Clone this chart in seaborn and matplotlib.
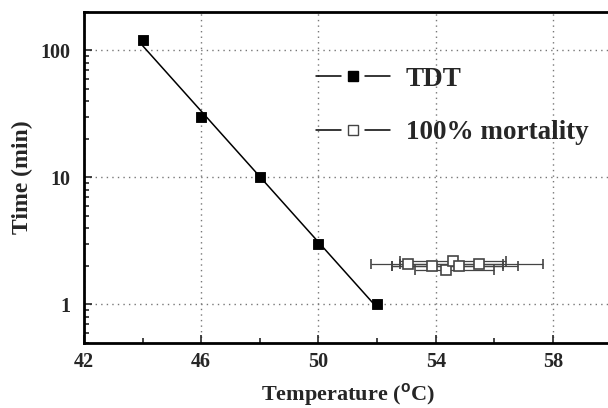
import numpy as np
import pandas as pd
import matplotlib
matplotlib.use("Agg")
import matplotlib.pyplot as plt
from matplotlib.lines import Line2D
from matplotlib.legend_handler import HandlerTuple
from matplotlib.ticker import FixedLocator, LogLocator, NullFormatter, FuncFormatter
import seaborn as sns

# ---- data ----
tdt_temp = [44, 46, 48, 50, 52]
tdt_time = [120, 30, 10, 3, 1]

mort_temp = [53.05, 53.86, 54.36, 54.58, 54.80, 55.48]
mort_time = [2.07, 2.00, 1.87, 2.19, 2.00, 2.08]
mort_lo = [52.77, 52.50, 53.28, 52.77, 52.50, 51.78]
mort_hi = [56.30, 56.80, 56.00, 56.40, 56.30, 57.66]

x_ticks = [42, 46, 50, 54, 58]
y_ticks = [1, 10, 100]
labels = ["TDT", "100% mortality"]

sns.set_style("ticks")
plt.rcParams['font.family'] = ['Liberation Serif', 'DejaVu Serif']
plt.rcParams['font.weight'] = 'bold'
plt.rcParams['mathtext.fontset'] = 'custom'
plt.rcParams['mathtext.rm'] = 'Liberation Sans'
plt.rcParams['mathtext.it'] = 'Liberation Sans'

fig = plt.figure(figsize=(6.08, 4.08), dpi=100)
ax = fig.add_axes([0.138, 0.160, 0.868, 0.810])

# linear fit of log10(time) vs temperature
coef = np.polyfit(tdt_temp, np.log10(tdt_time), 1)
fit_x = np.array([tdt_temp[0], tdt_temp[-1]], dtype=float)
fit_df = pd.DataFrame({"x": fit_x, "y": 10 ** np.polyval(coef, fit_x)})
sns.lineplot(data=fit_df, x="x", y="y", ax=ax, color="black", linewidth=1.1, zorder=3)

tdt_df = pd.DataFrame({"x": tdt_temp, "y": tdt_time})
sns.scatterplot(data=tdt_df, x="x", y="y", ax=ax, marker="s", s=60, color="black",
                edgecolor="black", zorder=4)

mt = np.array(mort_temp)
xerr = np.vstack([mt - np.array(mort_lo), np.array(mort_hi) - mt])
ax.errorbar(mt, mort_time, xerr=xerr, fmt="s", mfc="white", mec="#444444",
            mew=1.2, ms=7, ecolor="#444444", elinewidth=0.9, capsize=3.5,
            capthick=0.9, zorder=5)

ax.set_yscale("log")
ax.set_xlim(42, 60)
ax.set_ylim(0.5, 200)
ax.xaxis.set_major_locator(FixedLocator(x_ticks))
ax.xaxis.set_minor_locator(FixedLocator([44, 48, 52, 56, 60]))
ax.yaxis.set_major_locator(FixedLocator(y_ticks))
ax.yaxis.set_minor_locator(LogLocator(base=10, subs=np.arange(2, 10)))
ax.yaxis.set_minor_formatter(NullFormatter())
ax.yaxis.set_major_formatter(FuncFormatter(lambda v, p: f"{v:g}"))

ax.grid(True, which="major", linestyle=(0, (1, 3)), color="#777777", linewidth=1.0)
ax.tick_params(which="both", direction="in", width=1.2)
ax.tick_params(which="major", length=6, labelsize=14.5)
ax.tick_params(which="minor", length=3.5)
ax.tick_params(axis="x", pad=7)
ax.tick_params(axis="y", pad=10)
for sp in ax.spines.values():
    sp.set_linewidth(2)
    sp.set_color("black")
for lab in ax.get_xticklabels() + ax.get_yticklabels():
    lab.set_fontweight("bold")

ax.set_xlabel("Temperature ($^{\\mathrm{o}}$C)", fontsize=16, fontweight="bold", labelpad=6)
ax.set_ylabel("Time (min)", fontsize=17, fontweight="bold", labelpad=5)

l1a = Line2D([], [], color="black", lw=1.1)
m1 = Line2D([], [], color="black", marker="s", mfc="black", mec="black", ms=7, lw=0)
l1b = Line2D([], [], color="black", lw=1.1)
l2a = Line2D([], [], color="black", lw=1.1)
m2 = Line2D([], [], color="black", marker="s", mfc="white", mec="#444444", ms=6.5, mew=1.0, lw=0)
l2b = Line2D([], [], color="black", lw=1.1)
ax.legend([(l1a, m1, l1b), (l2a, m2, l2b)], labels,
          handler_map={tuple: HandlerTuple(ndivide=3, pad=0)},
          loc="upper left", bbox_to_anchor=(0.42, 0.868), frameon=False,
          handlelength=2.7, handletextpad=0.6, labelspacing=1.06, borderaxespad=0,
          prop={"family": "Liberation Serif", "weight": "bold", "size": 19.5})

fig.savefig("out.png", dpi=100)
